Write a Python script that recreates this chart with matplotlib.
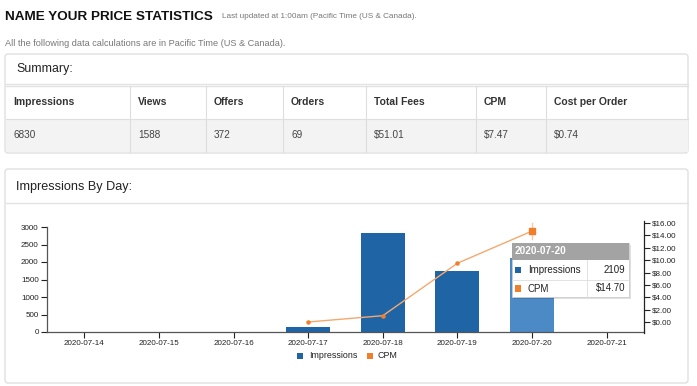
import matplotlib
matplotlib.use("Agg")
import matplotlib.pyplot as plt
from matplotlib.patches import FancyBboxPatch, Rectangle

plt.rcParams["font.family"] = ["Liberation Sans", "DejaVu Sans"]

# ---------------------------------------------------------------------------
# Data
# ---------------------------------------------------------------------------
summary_cols = ["Impressions", "Views", "Offers", "Orders", "Total Fees", "CPM", "Cost per Order"]
summary_vals = ["6830", "1588", "372", "69", "$51.01", "$7.47", "$0.74"]

dates = ["2020-07-14", "2020-07-15", "2020-07-16", "2020-07-17",
         "2020-07-18", "2020-07-19", "2020-07-20", "2020-07-21"]
impressions = [0, 0, 0, 149, 2830, 1742, 2109, 0]
cpm_dates = ["2020-07-17", "2020-07-18", "2020-07-19", "2020-07-20"]
cpm = [0.0, 1.02, 9.5, 14.70]

left_ticks = [0, 500, 1000, 1500, 2000, 2500, 3000]
right_ticks = [0, 2, 4, 6, 8, 10, 12, 14, 16]
hover_date = "2020-07-20"

BLUE = "#1f65a6"
BLUE_HOVER = "#4b8ac5"
ORANGE = "#f07f2c"
W, H = 697, 386

fig = plt.figure(figsize=(W / 100, H / 100), dpi=100)


def frac(x0, y0, x1, y1):
    # pixel box (top-left origin) -> figure fraction rect
    return [x0 / W, 1 - y1 / H, (x1 - x0) / W, (y1 - y0) / H]


# --- page background in pixel coords ---
bg = fig.add_axes([0, 0, 1, 1])
bg.set_xlim(0, W)
bg.set_ylim(H, 0)
bg.axis("off")

bg.text(5, 17, "NAME YOUR PRICE STATISTICS", fontsize=9.7, fontweight="bold",
        color="#111111", va="center")
bg.text(222, 17, "Last updated at 1:00am (Pacific Time (US & Canada).", fontsize=5.85,
        color="#777777", va="center")
bg.text(5, 43, "All the following data calculations are in Pacific Time (US & Canada).",
        fontsize=6.6, color="#777777", va="center")


def panel(y0, y1, header_y1):
    bg.add_patch(FancyBboxPatch((5, y0), 683, y1 - y0, boxstyle="round,pad=0,rounding_size=3",
                                fc="white", ec="#dddddd", lw=0.9))
    bg.plot([5.5, 687.5], [header_y1, header_y1], color="#e3e3e3", lw=1.0)


# --- Summary panel ---
panel(54, 153, 84)
bg.text(16, 69, "Summary:", fontsize=8.9, color="#222222", va="center")
bg.add_patch(Rectangle((5.5, 119), 682, 33, fc="#f3f3f3", ec="none"))
bg.plot([5.5, 687.5], [86, 86], color="#e3e3e3", lw=1.0)
bg.plot([5.5, 687.5], [119, 119], color="#dedede", lw=0.8)
col_x = [5, 130, 206, 283, 366, 476, 546]
for i, (name, val) in enumerate(zip(summary_cols, summary_vals)):
    x = col_x[i]
    if i > 0:
        bg.plot([x, x], [86, 152], color="#dedede", lw=0.8)
    bg.text(x + 8, 102, name, fontsize=7.5, fontweight="bold", color="#333333", va="center")
    bg.text(x + 8, 135, val, fontsize=7.2, color="#444444", va="center")

# --- Impressions panel ---
panel(169, 383, 203)
bg.text(16, 187, "Impressions By Day:", fontsize=9.1, color="#222222", va="center")

# ---------------------------------------------------------------------------
# Chart
# ---------------------------------------------------------------------------
x = list(range(len(dates)))
ax = fig.add_axes(frac(47, 227, 644, 332))
ax.patch.set_alpha(0)
colors = [BLUE_HOVER if d == hover_date else BLUE for d in dates]
ax.bar(x, impressions, width=0.59, color=colors, zorder=2)
ax.set_xlim(-0.5, len(dates) - 0.5)
ax.set_ylim(0, 3000)
ax.set_yticks(left_ticks)
ax.set_yticklabels([str(t) for t in left_ticks])
ax.set_xticks(x)
ax.set_xticklabels(dates)
ax.tick_params(axis="both", labelsize=5.8, length=4, width=0.8, color="#222222",
               labelcolor="#222222", pad=2)
ax.tick_params(axis="x", pad=2)
for s in ["top", "right"]:
    ax.spines[s].set_visible(False)
for s in ["left", "bottom"]:
    ax.spines[s].set_color("#555555")
    ax.spines[s].set_linewidth(0.9)

# right axis for CPM
ax2 = fig.add_axes(frac(47, 221, 644, 333))
ax2.patch.set_alpha(0)
px_per_dollar = 99 / 16
ax2.set_ylim(-(333 - 322) / px_per_dollar, (322 - 221) / px_per_dollar)
ax2.set_xlim(-0.5, len(dates) - 0.5)
for s in ["top", "left", "bottom"]:
    ax2.spines[s].set_visible(False)
ax2.spines["right"].set_color("#222222")
ax2.spines["right"].set_linewidth(0.9)
ax2.yaxis.tick_right()
ax2.set_xticks([])
ax2.set_yticks(right_ticks)
ax2.set_yticklabels([f"${t:.2f}" for t in right_ticks])
ax2.tick_params(axis="y", labelsize=5.8, length=4, width=0.8, color="#222222",
                labelcolor="#222222", pad=2)

cx = [dates.index(d) for d in cpm_dates]
ax2.plot(cx, cpm, color="#f5a86e", lw=1.0, zorder=3)
ax2.scatter(cx, cpm, s=5, color=ORANGE, zorder=4)
hi = cpm_dates.index(hover_date)
ax2.plot([cx[hi], cx[hi]], [cpm[hi] - 1.3, cpm[hi] + 1.3], color="#f9c9a3", lw=1.0, zorder=3)
ax2.scatter([cx[hi]], [cpm[hi]], s=14, marker="s", color=ORANGE, zorder=5)

# --- legend & tooltip overlay ---
ov = fig.add_axes([0, 0, 1, 1])
ov.set_xlim(0, W)
ov.set_ylim(H, 0)
ov.axis("off")
ov.patch.set_alpha(0)

ov.add_patch(Rectangle((297, 353), 6, 6, fc=BLUE, ec="none"))
ov.text(309, 356, "Impressions", fontsize=6.4, color="#222222", va="center")
ov.add_patch(Rectangle((367, 353), 6, 6, fc=ORANGE, ec="none"))
ov.text(378, 356, "CPM", fontsize=6.4, color="#222222", va="center")

# tooltip
tx0, tx1, ty0, ty1 = 512, 629, 243, 297
ov.add_patch(Rectangle((tx0 + 1.5, ty0 + 2), tx1 - tx0, ty1 - ty0, fc="#000000", alpha=0.12, ec="none"))
ov.add_patch(Rectangle((tx0, ty0), tx1 - tx0, ty1 - ty0, fc="white", ec="#cccccc", lw=0.6))
ov.add_patch(Rectangle((tx0, ty0), tx1 - tx0, 17, fc="#a3a3a3", ec="none"))
ov.text(tx0 + 3, ty0 + 8.5, hover_date, fontsize=7.3, fontweight="bold", color="white", va="center")
ov.plot([tx0, tx1], [280, 280], color="#dddddd", lw=0.6)
ov.plot([587, 587], [260, 297], color="#dddddd", lw=0.6)
hi_imp = impressions[dates.index(hover_date)]
rows = [(BLUE, "Impressions", str(hi_imp), 270), (ORANGE, "CPM", f"${cpm[hi]:.2f}", 288.5)]
for c, name, val, ry in rows:
    ov.add_patch(Rectangle((515, ry - 3.2), 6, 6.4, fc=c, ec="none"))
    ov.text(528, ry, name, fontsize=7, color="#222222", va="center")
    ov.text(625, ry, val, fontsize=7, color="#222222", va="center", ha="right")

fig.savefig("out.png", dpi=100)
